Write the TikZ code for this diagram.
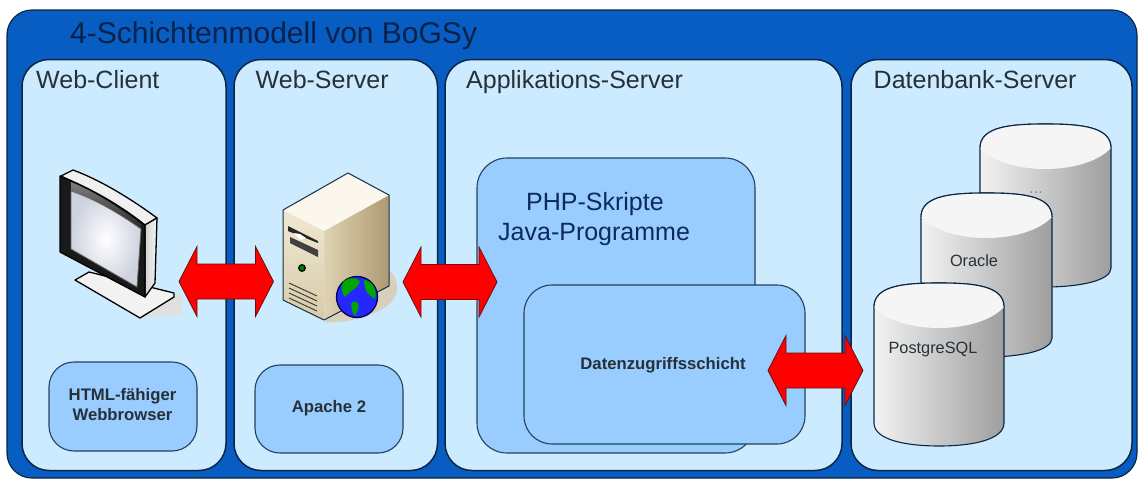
\documentclass[tikz,border=0pt]{standalone}
\usepackage{fontspec}
\setmainfont{Liberation Sans}
\usetikzlibrary{calc,shapes.geometric}
\definecolor{outerblue}{HTML}{085DC2}
\definecolor{panelblue}{HTML}{CCEBFF}
\definecolor{innerblue}{HTML}{99CCFF}
\definecolor{edgedark}{HTML}{0B2545}
\definecolor{softedge}{HTML}{24415F}
\definecolor{labeltext}{HTML}{263038}
\definecolor{navytext}{HTML}{0C2A5C}
\definecolor{darkarrow}{HTML}{6A1010}
\definecolor{screenedge}{HTML}{CDD2DE}
\definecolor{beigetop}{HTML}{FBF7EC}
\definecolor{beigeL}{HTML}{F0E8D2}
\definecolor{beigeLb}{HTML}{D8CBA8}
\definecolor{beigeR}{HTML}{DFD3B3}
\definecolor{beigeRb}{HTML}{AE9A72}
\definecolor{beigeshade}{HTML}{D6D0BC}
\tikzset{
  outerbox/.style={draw=edgedark,line width=1.2pt,fill=outerblue,rounded corners=25pt},
  panelbox/.style={draw=edgedark,line width=1.5pt,fill=panelblue,rounded corners=27pt,minimum width=#1,minimum height=411pt},
  softbox/.style={draw=softedge,line width=1.1pt,fill=innerblue,rounded corners=#1},
  paneltitle/.style={anchor=base west,font=\fontsize{25}{27}\selectfont,text=labeltext,inner sep=0pt},
  apptext/.style={anchor=base west,font=\fontsize{25}{27}\selectfont,text=navytext,inner sep=0pt},
  boldtext/.style={font=\bfseries\fontsize{16.7}{20}\selectfont,text=labeltext,align=center,inner sep=0pt},
  cyllabel/.style={font=\fontsize{16.3}{18}\selectfont,text=labeltext,inner sep=0pt},
  bigarrow/.style={draw=darkarrow,line width=0.8pt,fill=red,line join=miter,to path={
    (\tikztostart) -- ++(18pt,35pt) -- ++(0,-17.5pt) -- ($(\tikztotarget)+(-18pt,17.5pt)$) -- ++(0,17.5pt)
    -- (\tikztotarget) -- ++(-18pt,-35pt) -- ++(0,17.5pt) -- ($(\tikztostart)+(18pt,-17.5pt)$) -- ++(0,-17.5pt) -- cycle}},
  devline/.style={draw=black,line width=1.3pt,line join=round},
}
% #1 left x, #2 right x, #3 top y (of ellipse), #4 side y of top, #5 side y of bottom, #6 lowest y
\newcommand{\cylinderart}[6]{%
  \path[left color=black!5,middle color=black!15,right color=black!38,draw=edgedark,line width=1.1pt]
    (#1,#4) .. controls (#1,{#3+2}) and ({#1+(#2-#1)*0.25},#3) .. ({(#1+#2)/2},#3)
    .. controls ({#2-(#2-#1)*0.25},#3) and (#2,{#3+2}) .. (#2,#4)
    -- (#2,#5) .. controls (#2,{#6-6}) and ({#2-(#2-#1)*0.25},#6) .. ({(#1+#2)/2},#6)
    .. controls ({#1+(#2-#1)*0.25},#6) and (#1,{#6-6}) .. (#1,#5) -- cycle;
  \fill[black!4] (#1,#4) .. controls (#1,{#3+2}) and ({#1+(#2-#1)*0.25},#3) .. ({(#1+#2)/2},#3)
    .. controls ({#2-(#2-#1)*0.25},#3) and (#2,{#3+2}) .. (#2,#4)
    .. controls ({#2-(#2-#1)*0.2},{#4+28}) and ({#1+(#2-#1)*0.2},{#4+28}) .. (#1,#4) -- cycle;
  \draw[draw=edgedark,line width=1.1pt]
    (#1,#4) .. controls (#1,{#3+2}) and ({#1+(#2-#1)*0.25},#3) .. ({(#1+#2)/2},#3)
    .. controls ({#2-(#2-#1)*0.25},#3) and (#2,{#3+2}) .. (#2,#4);
}
\begin{document}
\begin{tikzpicture}[x=1pt,y=-1pt]
\useasboundingbox (0,0) rectangle (1138,479);
\fill[white] (0,0) rectangle (1138,479);
% frame
\node[outerbox,minimum width=1130pt,minimum height=468pt] (frame) at (572,244) {};
\node[anchor=base west,font=\fontsize{30}{32}\selectfont,text=navytext!80!black,inner sep=0pt] (maintitle) at (70,43) {4-Schichtenmodell von BoGSy};
% panels
\node[panelbox=204pt] (clientpanel) at (124,265) {};
\node[panelbox=203.5pt] (webpanel) at (335.75,265) {};
\node[panelbox=397pt] (apppanel) at (643.5,265) {};
\node[panelbox=281pt] (dbpanel) at (991.5,265) {};
\node[paneltitle] (clienttitle) at (36,88) {Web-Client};
\node[paneltitle] (webtitle) at (255.5,88) {Web-Server};
\node[paneltitle] (apptitle) at (466,88) {Applikations-Server};
\node[paneltitle] (dbtitle) at (873.5,88) {Datenbank-Server};
% software boxes
\node[softbox=25pt,minimum width=148pt,minimum height=89pt] (browserbox) at (123,406.5) {};
\node[boldtext] (browsertext) at (122.5,405) {HTML-fähiger\\Webbrowser};
\node[softbox=25pt,minimum width=148pt,minimum height=88pt] (apachebox) at (329,409) {};
\node[boldtext] (apachetext) at (329,408) {Apache 2};
\node[softbox=30pt,minimum width=278pt,minimum height=295pt] (phpbox) at (616,305.5) {};
\node[apptext] (phptext) at (526,210) {PHP-Skripte};
\node[apptext] (javatext) at (498,240) {Java-Programme};
\node[softbox=28pt,minimum width=281pt,minimum height=159pt] (dalbox) at (664.5,364.5) {};
\node[boldtext] (daltext) at (663,365) {Datenzugriffsschicht};
% monitor
\fill[black!12] (140,318) -- (182,315) -- (183,295) -- (174,293) -- cycle;
\draw[devline,fill=black!5] (75,280) -- (89,272) -- (174,293) -- (174,297) -- (140,318) -- cycle;
\draw[devline,fill=black!6] (61,176) -- (73,170) .. controls (100,180) and (130,198) .. (157,218) -- (145,225) -- (100,196) -- cycle;
\path[devline,left color=black!18,right color=black!4] (145,225) -- (157,218) -- (155,283) -- (145,297) -- cycle;
\draw[devline,fill=black!90,line width=1.3pt] (60,176) .. controls (90,188) and (120,205) .. (145,225) -- (145,297) -- (60,252) -- cycle;
\path[top color=black!50,bottom color=black!85] (71,182) .. controls (95,192) and (120,208) .. (141,224) -- (141,230) .. controls (118,214) and (95,200) .. (71,191) -- cycle;
\path[draw=black!60,line width=0.8pt,inner color=white,outer color=screenedge] (71,191) .. controls (95,199) and (120,214) .. (141,229) -- (137,287) -- (71,249) -- cycle;
\node[minimum width=96pt,minimum height=150pt,inner sep=0pt] (monitor) at (117,244) {};
% server
\fill[beigeshade] (324,322) -- (389,270) .. controls (398,278) and (400,290) .. (393,300) .. controls (380,316) and (345,324) .. (324,322) -- cycle;
\path[top color=beigeL,bottom color=beigeLb] (283,210) -- (324,231) -- (324,320) -- (283,300) -- cycle;
\path[left color=beigeR,right color=beigeRb] (324,231) -- (389,195) -- (389,286) -- (324,320) -- cycle;
\fill[beigetop] (283,210) -- (348,173) -- (389,195) -- (324,231) -- cycle;
\draw[softedge!70!black,line width=1pt,line join=round] (283,210) -- (348,173) -- (389,195) -- (389,286) -- (324,320) -- (283,300) -- cycle;
\fill[black!85] (288,226) -- (318,241) -- (318,243) -- (288,231) -- cycle;
\fill[black!75] (290,237) -- (318,250) -- (318,257) -- (290,243) -- cycle;
\fill[white] (294,233) -- (300,234) -- (306,238) -- (300,240) -- cycle;
\draw[black!90!green,line width=1.5pt,fill=green!50!black] (302,268) circle (3.2pt);
\foreach \i in {0,1,2,3}{\draw[black!75,line width=1pt] (289,{283+5*\i}) -- (317,{296+5*\i});}
\node[circle,draw=black!70!blue,line width=1.3pt,fill=blue!85!white,minimum size=41pt,inner sep=0pt] (globe) at (357,297) {};
\fill[green!65!black] (344,281) .. controls (352,276) and (358,278) .. (360,282) .. controls (356,290) and (348,292) .. (345,297) .. controls (341,293) and (340,286) .. (344,281) -- cycle;
\fill[green!65!black] (364,280) .. controls (372,280) and (378,290) .. (375,299) .. controls (370,296) and (364,292) .. (364,280) -- cycle;
\fill[green!65!black] (352,302) .. controls (358,300) and (360,305) .. (358,310) -- (355,316) .. controls (352,312) and (350,307) .. (352,302) -- cycle;
\node[minimum width=106pt,minimum height=147pt,inner sep=0pt] (server) at (336,247) {};
% databases
\cylinderart{980}{1111}{124}{148}{268}{287}
\node[cyllabel,text=black!45] (dotslabel) at (1036,193) {...};
\cylinderart{921}{1052}{193}{217}{338}{357}
\node[cyllabel] (oraclelabel) at (974,261) {Oracle};
\cylinderart{874}{1004}{283}{307}{423}{446}
\node[cyllabel] (postgreslabel) at (933,349) {PostgreSQL};
% connectors
\coordinate (a1) at (179,281.5);
\coordinate (b1) at (273.5,281.5);
\coordinate (a2) at (403,282);
\coordinate (b2) at (497,282);
\coordinate (a3) at (768,370.5);
\coordinate (b3) at (863,370.5);
\draw[bigarrow] (a1) to (b1);
\draw[bigarrow] (a2) to (b2);
\draw[bigarrow] (a3) to (b3);
\end{tikzpicture}
\end{document}
